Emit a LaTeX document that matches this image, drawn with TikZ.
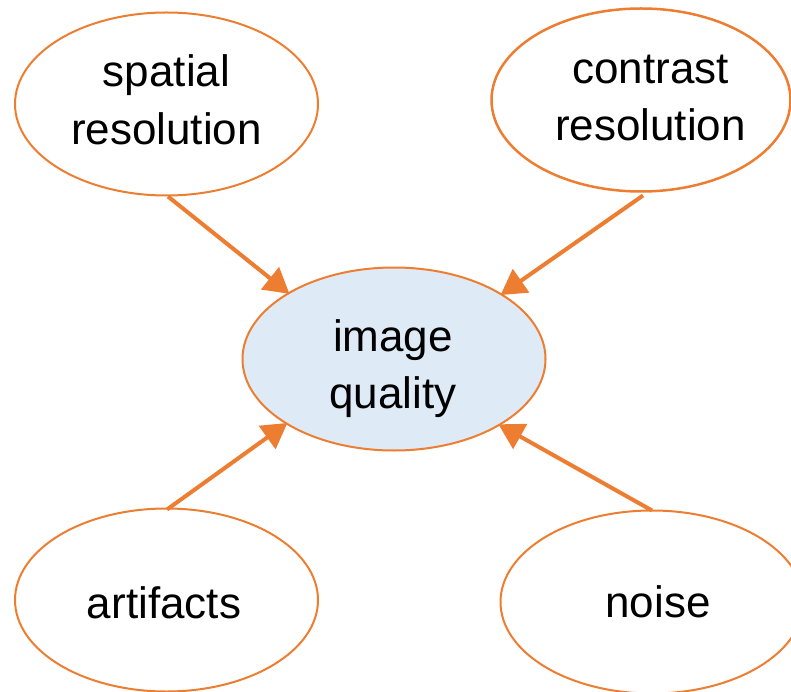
\documentclass[tikz,border=0pt]{standalone}
\usepackage{fontspec}
\setmainfont{Liberation Sans}
\usetikzlibrary{arrows.meta,shapes.geometric}
\definecolor{accent}{HTML}{ED7D31}
\definecolor{paleblue}{HTML}{DEEAF6}
\tikzset{
  blob/.style={ellipse, draw=accent, line width=2pt, inner sep=0pt, outer sep=0pt,
               minimum width=303pt, minimum height=183pt},
  hub/.style={blob, fill=paleblue},
  txt/.style={anchor=base, inner sep=0pt, font=\fontsize{44}{58}\selectfont},
  feed/.style={draw=accent, line width=4pt,
               -{Triangle[length=25pt,width=28pt]}, shorten >=-1pt}
}
\begin{document}
\begin{tikzpicture}[x=1pt,y=-1pt]
  \useasboundingbox (0,0) rectangle (791,692);
  \clip (0,0) rectangle (791,692);

  % outer factors
  \node[blob] (sp) at (166.5,104) {};
  \node[txt] (sp1) at (166.5,87) {spatial};
  \node[txt] (sp2) at (166.5,145) {resolution};

  \node[blob, line width=2.5pt, minimum width=299pt] (co) at (641,100) {};
  \node[txt] (co1) at (650.5,84) {contrast};
  \node[txt] (co2) at (650.5,141) {resolution};

  \node[blob] (ar) at (166.5,600) {};
  \node[txt] (ar1) at (164,618) {artifacts};

  \node[blob] (no) at (652,602) {};
  \node[txt] (no1) at (658,617) {noise};

  % central node
  \node[hub] (iq) at (394,359) {};
  \node[txt] (iq1) at (393,351) {image};
  \node[txt] (iq2) at (393,408) {quality};

  % connectors pointing to the centre
  \draw[feed] ([shift={(1.5,1)}]sp.south) -- (iq.148.3);
  \draw[feed] ([shift={(2,4)}]co.south) -- (iq.31.3);
  \draw[feed] ([shift={(0.5,1)}]ar.north) -- (iq.211.3);
  \draw[feed] (no.north) -- (iq.328.7);
\end{tikzpicture}
\end{document}
